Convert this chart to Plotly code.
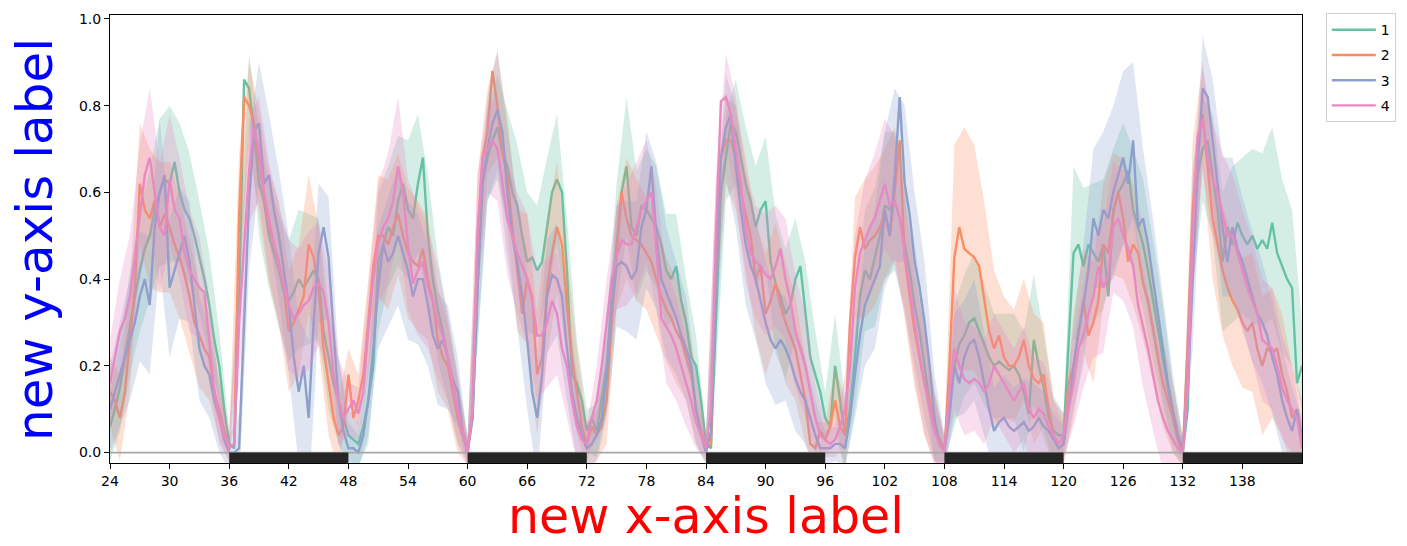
import plotly.graph_objects as go

# Half-hourly means (hours 24 .. 144)
series_1 = [
    0.06, 0.10, 0.15, 0.22, 0.30, 0.36, 0.42, 0.47, 0.50, 0.56, 0.60, 0.63, 0.62, 0.67, 0.60, 0.56, 0.54, 0.50, 0.45, 0.40, 0.34, 0.26, 0.20, 0.10, 0.02,
    0.01, 0.35, 0.86, 0.84, 0.74, 0.62, 0.58, 0.50, 0.46, 0.42, 0.37, 0.35, 0.37, 0.40, 0.38, 0.40, 0.42, 0.40, 0.28, 0.22, 0.16, 0.12, 0.08, 0.04,
    0.03, 0.02, 0.06, 0.12, 0.20, 0.44, 0.48, 0.52, 0.50, 0.58, 0.62, 0.56, 0.54, 0.62, 0.68, 0.50, 0.40, 0.33, 0.28, 0.22, 0.16, 0.10, 0.05, 0.01,
    0.08, 0.38, 0.62, 0.68, 0.72, 0.75, 0.69, 0.66, 0.60, 0.57, 0.50, 0.44, 0.45, 0.42, 0.44, 0.52, 0.60, 0.63, 0.60, 0.42, 0.18, 0.16, 0.12, 0.05,
    0.08, 0.05, 0.12, 0.20, 0.36, 0.48, 0.60, 0.66, 0.52, 0.50, 0.57, 0.56, 0.54, 0.52, 0.48, 0.42, 0.40, 0.43, 0.35, 0.30, 0.22, 0.20, 0.12, 0.02,
    0.01, 0.30, 0.60, 0.68, 0.76, 0.74, 0.68, 0.62, 0.58, 0.52, 0.56, 0.58, 0.44, 0.39, 0.36, 0.32, 0.34, 0.40, 0.43, 0.32, 0.22, 0.18, 0.14, 0.08,
    0.06, 0.20, 0.12, 0.04, 0.10, 0.22, 0.36, 0.42, 0.40, 0.45, 0.50, 0.57, 0.56, 0.58, 0.54, 0.48, 0.42, 0.34, 0.28, 0.20, 0.12, 0.06, 0.03, 0.01,
    0.08, 0.20, 0.25, 0.27, 0.30, 0.31, 0.28, 0.25, 0.22, 0.20, 0.21, 0.20, 0.19, 0.20, 0.18, 0.14, 0.09, 0.26, 0.20, 0.15, 0.08, 0.05, 0.04, 0.04,
    0.24, 0.46, 0.48, 0.43, 0.48, 0.46, 0.44, 0.48, 0.36, 0.56, 0.60, 0.62, 0.65, 0.56, 0.52, 0.48, 0.42, 0.35, 0.28, 0.22, 0.15, 0.08, 0.03, 0.00,
    0.10, 0.52, 0.64, 0.70, 0.72, 0.64, 0.56, 0.44, 0.52, 0.48, 0.53, 0.50, 0.48, 0.50, 0.47, 0.49, 0.47, 0.53, 0.46, 0.43, 0.40, 0.38, 0.16, 0.20,
]
series_2 = [
    0.14, 0.12, 0.08, 0.14, 0.26, 0.38, 0.62, 0.56, 0.54, 0.58, 0.52, 0.55, 0.52, 0.48, 0.45, 0.41, 0.36, 0.30, 0.27, 0.24, 0.22, 0.14, 0.10, 0.05, 0.01,
    0.02, 0.55, 0.82, 0.80, 0.76, 0.67, 0.60, 0.52, 0.48, 0.44, 0.38, 0.28, 0.30, 0.33, 0.36, 0.48, 0.45, 0.38, 0.24, 0.16, 0.08, 0.04, 0.06, 0.18,
    0.08, 0.12, 0.18, 0.30, 0.43, 0.50, 0.50, 0.48, 0.52, 0.55, 0.50, 0.46, 0.44, 0.43, 0.47, 0.40, 0.35, 0.26, 0.22, 0.20, 0.14, 0.08, 0.04, 0.00,
    0.10, 0.50, 0.68, 0.74, 0.88, 0.80, 0.69, 0.64, 0.52, 0.42, 0.32, 0.40, 0.36, 0.18, 0.22, 0.38, 0.46, 0.52, 0.48, 0.34, 0.22, 0.14, 0.06, 0.02,
    0.06, 0.04, 0.06, 0.12, 0.30, 0.45, 0.60, 0.54, 0.50, 0.49, 0.48, 0.46, 0.44, 0.40, 0.36, 0.33, 0.31, 0.28, 0.26, 0.22, 0.18, 0.10, 0.05, 0.01,
    0.02, 0.48, 0.68, 0.72, 0.72, 0.68, 0.60, 0.55, 0.50, 0.40, 0.43, 0.32, 0.35, 0.39, 0.34, 0.30, 0.27, 0.24, 0.18, 0.12, 0.02, 0.01, 0.05, 0.03,
    0.06, 0.12, 0.06, 0.04, 0.30, 0.45, 0.52, 0.47, 0.49, 0.50, 0.52, 0.55, 0.50, 0.60, 0.72, 0.45, 0.36, 0.28, 0.22, 0.16, 0.12, 0.06, 0.03, 0.00,
    0.20, 0.45, 0.52, 0.47, 0.46, 0.45, 0.43, 0.36, 0.28, 0.24, 0.27, 0.22, 0.20, 0.20, 0.22, 0.26, 0.20, 0.17, 0.16, 0.18, 0.10, 0.04, 0.01, 0.02,
    0.16, 0.20, 0.28, 0.35, 0.27, 0.30, 0.35, 0.48, 0.46, 0.55, 0.60, 0.54, 0.44, 0.48, 0.46, 0.39, 0.35, 0.28, 0.22, 0.16, 0.12, 0.08, 0.03, 0.00,
    0.25, 0.56, 0.70, 0.78, 0.66, 0.54, 0.48, 0.42, 0.38, 0.35, 0.33, 0.30, 0.28, 0.30, 0.24, 0.20, 0.24, 0.23, 0.24, 0.18, 0.14, 0.08, 0.10, 0.04,
]
series_3 = [
    0.10, 0.14, 0.18, 0.22, 0.26, 0.30, 0.36, 0.40, 0.34, 0.52, 0.60, 0.64, 0.38, 0.42, 0.46, 0.50, 0.44, 0.34, 0.24, 0.20, 0.18, 0.12, 0.08, 0.03, 0.00,
    0.00, 0.01, 0.30, 0.58, 0.74, 0.76, 0.62, 0.64, 0.56, 0.50, 0.42, 0.34, 0.22, 0.14, 0.20, 0.08, 0.30, 0.46, 0.52, 0.45, 0.28, 0.12, 0.05, 0.01,
    0.01, 0.00, 0.04, 0.12, 0.24, 0.38, 0.48, 0.44, 0.46, 0.50, 0.46, 0.42, 0.36, 0.40, 0.40, 0.34, 0.27, 0.24, 0.26, 0.22, 0.17, 0.14, 0.05, 0.00,
    0.08, 0.38, 0.62, 0.70, 0.76, 0.79, 0.74, 0.60, 0.50, 0.44, 0.36, 0.26, 0.14, 0.08, 0.18, 0.36, 0.41, 0.40, 0.36, 0.24, 0.14, 0.08, 0.04, 0.01,
    0.02, 0.04, 0.08, 0.18, 0.33, 0.43, 0.44, 0.43, 0.40, 0.42, 0.52, 0.56, 0.66, 0.50, 0.40, 0.37, 0.34, 0.31, 0.27, 0.24, 0.20, 0.10, 0.04, 0.00,
    0.05, 0.40, 0.68, 0.75, 0.78, 0.66, 0.56, 0.48, 0.43, 0.40, 0.35, 0.30, 0.26, 0.24, 0.26, 0.24, 0.21, 0.17, 0.14, 0.12, 0.08, 0.04, 0.01, 0.01,
    0.01, 0.02, 0.02, 0.01, 0.08, 0.18, 0.27, 0.34, 0.37, 0.40, 0.43, 0.56, 0.50, 0.64, 0.82, 0.62, 0.55, 0.44, 0.38, 0.30, 0.20, 0.08, 0.02, 0.00,
    0.10, 0.20, 0.16, 0.22, 0.25, 0.26, 0.22, 0.16, 0.10, 0.05, 0.07, 0.08, 0.06, 0.05, 0.06, 0.07, 0.05, 0.06, 0.08, 0.06, 0.05, 0.03, 0.01, 0.02,
    0.10, 0.20, 0.28, 0.34, 0.42, 0.54, 0.50, 0.56, 0.54, 0.60, 0.64, 0.68, 0.62, 0.72, 0.52, 0.54, 0.48, 0.40, 0.32, 0.24, 0.16, 0.10, 0.04, 0.01,
    0.15, 0.40, 0.66, 0.84, 0.82, 0.72, 0.62, 0.52, 0.44, 0.52, 0.47, 0.44, 0.40, 0.36, 0.32, 0.30, 0.27, 0.22, 0.18, 0.12, 0.08, 0.05, 0.10, 0.02,
]
series_4 = [
    0.16, 0.22, 0.28, 0.31, 0.36, 0.45, 0.55, 0.64, 0.68, 0.60, 0.52, 0.50, 0.63, 0.56, 0.54, 0.46, 0.42, 0.40, 0.38, 0.37, 0.26, 0.14, 0.08, 0.04, 0.01,
    0.02, 0.30, 0.48, 0.65, 0.75, 0.70, 0.60, 0.54, 0.48, 0.43, 0.39, 0.34, 0.31, 0.32, 0.34, 0.35, 0.38, 0.39, 0.37, 0.30, 0.18, 0.12, 0.08, 0.10,
    0.12, 0.09, 0.14, 0.28, 0.40, 0.48, 0.52, 0.54, 0.58, 0.66, 0.60, 0.48, 0.39, 0.42, 0.44, 0.38, 0.35, 0.30, 0.27, 0.22, 0.16, 0.10, 0.05, 0.00,
    0.10, 0.50, 0.68, 0.70, 0.72, 0.70, 0.62, 0.54, 0.50, 0.46, 0.43, 0.40, 0.35, 0.27, 0.27, 0.30, 0.35, 0.32, 0.24, 0.20, 0.12, 0.06, 0.03, 0.02,
    0.08, 0.12, 0.20, 0.30, 0.40, 0.45, 0.49, 0.48, 0.48, 0.52, 0.56, 0.58, 0.60, 0.47, 0.31, 0.29, 0.27, 0.24, 0.20, 0.16, 0.12, 0.07, 0.04, 0.01,
    0.10, 0.50, 0.81, 0.82, 0.78, 0.70, 0.62, 0.52, 0.46, 0.44, 0.43, 0.41, 0.40, 0.43, 0.47, 0.40, 0.35, 0.28, 0.24, 0.20, 0.14, 0.08, 0.04, 0.03,
    0.02, 0.03, 0.06, 0.10, 0.20, 0.38, 0.46, 0.49, 0.52, 0.54, 0.58, 0.62, 0.57, 0.58, 0.54, 0.46, 0.38, 0.30, 0.22, 0.16, 0.10, 0.05, 0.02, 0.00,
    0.14, 0.24, 0.20, 0.17, 0.16, 0.17, 0.16, 0.14, 0.16, 0.20, 0.18, 0.16, 0.14, 0.12, 0.14, 0.16, 0.10, 0.08, 0.10, 0.09, 0.06, 0.04, 0.02, 0.04,
    0.10, 0.16, 0.24, 0.27, 0.32, 0.36, 0.43, 0.38, 0.41, 0.52, 0.54, 0.50, 0.47, 0.43, 0.34, 0.29, 0.24, 0.18, 0.12, 0.08, 0.05, 0.03, 0.01, 0.00,
    0.15, 0.50, 0.73, 0.77, 0.68, 0.63, 0.60, 0.55, 0.50, 0.50, 0.46, 0.42, 0.38, 0.35, 0.32, 0.26, 0.25, 0.24, 0.20, 0.15, 0.12, 0.10, 0.08, 0.01,
]

# Hourly spread of each series (hours 24 .. 144)
spread_1 = [
    0.08, 0.10, 0.12, 0.14, 0.15, 0.17, 0.18, 0.16, 0.15, 0.13, 0.12, 0.08, 0.03,
    0.10, 0.08, 0.12, 0.12, 0.13, 0.14, 0.16, 0.15, 0.14, 0.12, 0.10, 0.06,
    0.05, 0.10, 0.16, 0.14, 0.15, 0.16, 0.16, 0.14, 0.12, 0.10, 0.08, 0.03,
    0.12, 0.10, 0.12, 0.13, 0.14, 0.16, 0.15, 0.16, 0.15, 0.12, 0.10, 0.05,
    0.06, 0.10, 0.14, 0.16, 0.15, 0.14, 0.14, 0.13, 0.12, 0.10, 0.07, 0.03,
    0.12, 0.10, 0.12, 0.13, 0.14, 0.15, 0.16, 0.15, 0.14, 0.12, 0.10, 0.06,
    0.12, 0.08, 0.12, 0.14, 0.16, 0.17, 0.16, 0.15, 0.14, 0.12, 0.08, 0.03,
    0.14, 0.14, 0.15, 0.14, 0.12, 0.12, 0.12, 0.14, 0.15, 0.12, 0.08, 0.05,
    0.20, 0.18, 0.16, 0.15, 0.14, 0.14, 0.14, 0.15, 0.14, 0.12, 0.08, 0.03,
    0.14, 0.12, 0.14, 0.16, 0.18, 0.18, 0.20, 0.20, 0.22, 0.20, 0.18, 0.10,
]
spread_2 = [
    0.08, 0.10, 0.12, 0.14, 0.16, 0.15, 0.15, 0.14, 0.13, 0.12, 0.10, 0.07, 0.03,
    0.14, 0.10, 0.12, 0.13, 0.14, 0.14, 0.15, 0.16, 0.14, 0.12, 0.08, 0.06,
    0.06, 0.10, 0.14, 0.15, 0.14, 0.15, 0.15, 0.14, 0.12, 0.10, 0.08, 0.03,
    0.14, 0.10, 0.12, 0.13, 0.14, 0.15, 0.14, 0.16, 0.15, 0.12, 0.10, 0.05,
    0.06, 0.10, 0.12, 0.14, 0.14, 0.13, 0.13, 0.12, 0.12, 0.10, 0.08, 0.03,
    0.14, 0.10, 0.12, 0.13, 0.13, 0.14, 0.14, 0.14, 0.12, 0.10, 0.06, 0.04,
    0.08, 0.08, 0.14, 0.16, 0.16, 0.15, 0.15, 0.14, 0.13, 0.12, 0.08, 0.03,
    0.26, 0.28, 0.26, 0.22, 0.18, 0.14, 0.13, 0.14, 0.15, 0.12, 0.08, 0.05,
    0.12, 0.12, 0.14, 0.14, 0.14, 0.14, 0.14, 0.13, 0.12, 0.10, 0.08, 0.03,
    0.16, 0.12, 0.14, 0.15, 0.15, 0.15, 0.16, 0.16, 0.15, 0.14, 0.12, 0.08,
]
spread_3 = [
    0.10, 0.12, 0.14, 0.15, 0.16, 0.17, 0.16, 0.15, 0.14, 0.12, 0.10, 0.08, 0.04,
    0.08, 0.16, 0.14, 0.14, 0.15, 0.16, 0.17, 0.18, 0.16, 0.14, 0.10, 0.06,
    0.04, 0.08, 0.14, 0.15, 0.16, 0.16, 0.15, 0.14, 0.13, 0.12, 0.08, 0.03,
    0.14, 0.12, 0.14, 0.15, 0.15, 0.16, 0.14, 0.13, 0.13, 0.12, 0.10, 0.05,
    0.06, 0.10, 0.14, 0.15, 0.16, 0.18, 0.17, 0.15, 0.13, 0.12, 0.08, 0.03,
    0.14, 0.12, 0.14, 0.14, 0.14, 0.14, 0.13, 0.12, 0.12, 0.10, 0.08, 0.04,
    0.04, 0.04, 0.10, 0.14, 0.16, 0.18, 0.20, 0.18, 0.16, 0.14, 0.10, 0.04,
    0.12, 0.13, 0.14, 0.12, 0.10, 0.10, 0.10, 0.10, 0.10, 0.08, 0.06, 0.04,
    0.10, 0.14, 0.16, 0.18, 0.20, 0.20, 0.18, 0.16, 0.14, 0.12, 0.08, 0.03,
    0.16, 0.12, 0.14, 0.16, 0.16, 0.15, 0.15, 0.14, 0.13, 0.12, 0.10, 0.06,
]
spread_4 = [
    0.10, 0.12, 0.14, 0.16, 0.16, 0.15, 0.15, 0.14, 0.14, 0.12, 0.10, 0.06, 0.03,
    0.14, 0.12, 0.12, 0.13, 0.14, 0.15, 0.15, 0.16, 0.14, 0.12, 0.10, 0.06,
    0.06, 0.10, 0.14, 0.15, 0.16, 0.15, 0.15, 0.14, 0.13, 0.10, 0.08, 0.03,
    0.14, 0.10, 0.12, 0.13, 0.14, 0.15, 0.15, 0.15, 0.14, 0.12, 0.08, 0.04,
    0.08, 0.10, 0.12, 0.14, 0.15, 0.14, 0.14, 0.13, 0.12, 0.10, 0.06, 0.03,
    0.14, 0.10, 0.12, 0.13, 0.13, 0.14, 0.14, 0.14, 0.13, 0.12, 0.08, 0.04,
    0.04, 0.08, 0.12, 0.14, 0.15, 0.15, 0.15, 0.14, 0.13, 0.12, 0.08, 0.03,
    0.14, 0.13, 0.12, 0.12, 0.12, 0.12, 0.12, 0.13, 0.14, 0.12, 0.08, 0.05,
    0.10, 0.12, 0.14, 0.15, 0.15, 0.15, 0.14, 0.14, 0.13, 0.12, 0.08, 0.03,
    0.14, 0.12, 0.13, 0.14, 0.14, 0.14, 0.14, 0.14, 0.14, 0.12, 0.10, 0.06,
]

series_names = ["1", "2", "3", "4"]
dark_starts = [36, 60, 84, 108, 132]
dark_length = 12
x_ticks = [24, 30, 36, 42, 48, 54, 60, 66, 72, 78, 84, 90, 96, 102, 108, 114, 120, 126, 132, 138]
y_ticks = [0.0, 0.2, 0.4, 0.6, 0.8, 1.0]

line_colors = ["#66c2a5", "#fc8d62", "#8da0cb", "#e78ac3"]
band_colors = ["rgba(102,194,165,0.28)", "rgba(252,141,98,0.28)",
               "rgba(141,160,203,0.28)", "rgba(231,138,195,0.28)"]

X_MIN, X_MAX = 24, 144
Y_MIN, Y_MAX = -0.024, 1.009

fig = go.Figure()

all_means = [series_1, series_2, series_3, series_4]
all_spreads = [spread_1, spread_2, spread_3, spread_4]

for name, mean, spread, lc, bc in zip(series_names, all_means, all_spreads,
                                      line_colors, band_colors):
    hours = [24 + 0.5 * i for i in range(len(mean))]
    band_hours = hours[::2][:len(spread)]
    band_mean = mean[::2][:len(spread)]
    upper = [m + s for m, s in zip(band_mean, spread)]
    lower = [m - s for m, s in zip(band_mean, spread)]
    fig.add_trace(go.Scatter(
        x=band_hours + band_hours[::-1],
        y=upper + lower[::-1],
        fill="toself", fillcolor=bc, line=dict(width=0),
        mode="lines", hoverinfo="skip", showlegend=False,
        legendgroup=name,
    ))
    fig.add_trace(go.Scatter(
        x=hours, y=mean, mode="lines", name=name,
        line=dict(color=lc, width=2.4), legendgroup=name,
    ))

# zero reference line
fig.add_shape(type="line", xref="paper", yref="y", x0=0, x1=1, y0=0, y1=0,
              line=dict(color="#a8a8a8", width=1.6), layer="above")

# dark periods along the bottom
for start in dark_starts:
    fig.add_shape(type="rect", xref="x", yref="y",
                  x0=start, x1=start + dark_length, y0=Y_MIN, y1=0,
                  fillcolor="#262626", line=dict(width=0), layer="above")

axis_font = dict(family="DejaVu Sans", size=14, color="#000000")

fig.update_layout(
    width=1407, height=546,
    margin=dict(l=110, r=105, t=11, b=83),
    paper_bgcolor="white", plot_bgcolor="white",
    font=dict(family="DejaVu Sans", color="#000000"),
    showlegend=True,
    legend=dict(
        x=1.02, y=1.004, xanchor="left", yanchor="top",
        bordercolor="#d0d0d0", borderwidth=1, bgcolor="white",
        font=dict(family="DejaVu Sans", size=14, color="#000000"),
        tracegroupgap=4, itemwidth=44, entrywidth=66,
    ),
    xaxis=dict(
        range=[X_MIN, X_MAX], tickmode="array", tickvals=x_ticks,
        ticktext=[str(t) for t in x_ticks],
        ticks="outside", ticklen=5, tickcolor="#000000",
        showline=True, linecolor="#000000", linewidth=1, mirror=True,
        showgrid=False, zeroline=False, tickfont=axis_font,
    ),
    yaxis=dict(
        range=[Y_MIN, Y_MAX], tickmode="array", tickvals=y_ticks,
        ticktext=[f"{t:.1f}" for t in y_ticks],
        ticks="outside", ticklen=5, tickcolor="#000000",
        showline=True, linecolor="#000000", linewidth=1, mirror=True,
        showgrid=False, zeroline=False, tickfont=axis_font,
    ),
    annotations=[
        dict(text="new x-axis label", xref="paper", yref="paper",
             x=0.5, y=-0.1184, xanchor="center", yanchor="middle",
             showarrow=False,
             font=dict(family="DejaVu Sans", size=49, color="#ff0000")),
        dict(text="new y-axis label", xref="paper", yref="paper",
             x=-0.063, y=0.5, xanchor="center", yanchor="middle",
             textangle=-90, showarrow=False,
             font=dict(family="DejaVu Sans", size=50, color="#0000ff")),
    ],
)

fig.write_html("out.html")
